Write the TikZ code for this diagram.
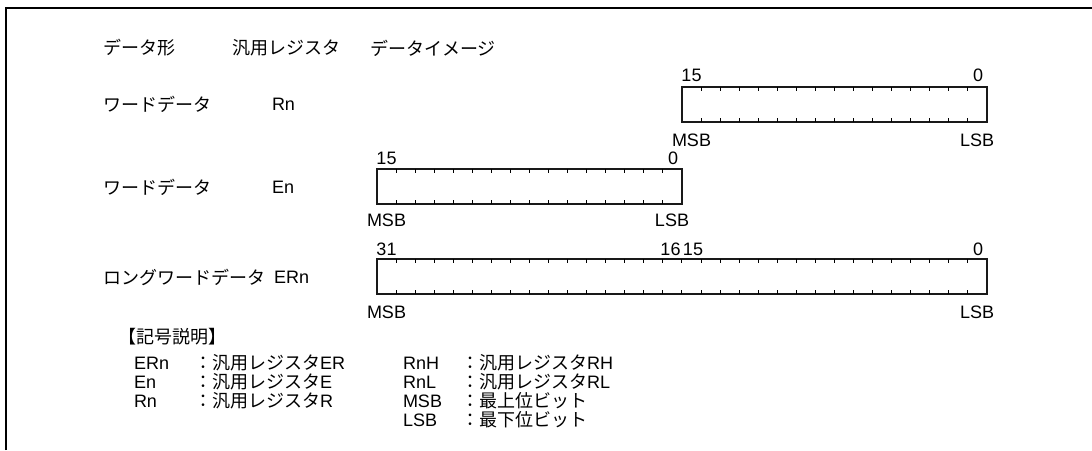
\documentclass[tikz,border=0pt]{standalone}
\usepackage{fontspec}
\setmainfont{Liberation Sans}
\newfontfamily\jp{Noto Sans CJK JP}

\begin{document}
\begin{tikzpicture}[x=1pt, y=-1pt, font=\fontsize{18}{21}\selectfont, inner sep=0pt, outer sep=0pt]
    \useasboundingbox (0,0) rectangle (1092,450);
    \draw [line width=2pt] (5.5,450) -- (5.5,7.5) -- (1092,7.5);

    % column heads
    \node (hform) [anchor=west] at (103,48) {\jp データ形};
    \node (hreg) [anchor=west] at (232,48) {\jp 汎用レジスタ};
    \node (himg) [anchor=west] at (370,48) {\jp データイメージ};

    % rows
    \node (wordr) [anchor=west] at (103,104) {\jp ワードデータ};
    \node (rn) [anchor=west] at (272,104) {Rn};
    \node (worde) [anchor=west] at (103,187) {\jp ワードデータ};
    \node (en) [anchor=west] at (272,187) {En};
    \node (long) [anchor=west] at (103,277) {\jp ロングワードデータ};
    \node (ern) [anchor=west] at (274,277) {ERn};

    % registers
    \node (rnbox) [rectangle, draw=black!90, line width=2.8pt, minimum width=305pt, minimum height=35pt, anchor=north west] at (682,87) {};
    \node (enbox) [rectangle, draw=black!90, line width=2.8pt, minimum width=305pt, minimum height=35pt, anchor=north west] at (377,169) {};
    \node (ernbox) [rectangle, draw=black!90, line width=2.8pt, minimum width=610pt, minimum height=35pt, anchor=north west] at (377,259) {};
    \foreach \x/\y/\n in {682/87/15, 377/169/15, 377/259/31}
        \foreach \i in {1,...,\n}
            \draw [line width=1pt] (\x+\i*19.06,\y) -- ++(0,4) (\x+\i*19.06,\y+35) -- ++(0,-4);

    \node (rnhi) at (691.5,75) {15};
    \node (rnlo) at (978,75) {0};
    \node (rnmsb) at (691.5,140) {MSB};
    \node (rnlsb) at (977,140) {LSB};

    \node (enhi) at (386.5,158) {15};
    \node (enlo) at (673,158) {0};
    \node (enmsb) at (386.5,220) {MSB};
    \node (enlsb) at (672,220) {LSB};

    \node (ernhi) at (386.5,249) {31};
    \node (ernmid) at (670.5,249) {16};
    \node (ernmid2) at (693,249) {15};
    \node (ernlo) at (978,249) {0};
    \node (ernmsb) at (386.5,312) {MSB};
    \node (ernlsb) at (977,312) {LSB};

    % legend
    \node (legend) [anchor=west] at (118,337) {\jp 【記号説明】};
    \node (kern) [anchor=west] at (134,363) {ERn};
    \node (tern) [anchor=west] at (194,363) {\jp ：汎用レジスタ\rmfamily ER};
    \node (ken) [anchor=west] at (134,382) {En};
    \node (ten) [anchor=west] at (194,382) {\jp ：汎用レジスタ\rmfamily E};
    \node (krn) [anchor=west] at (134,401) {Rn};
    \node (trn) [anchor=west] at (194,401) {\jp ：汎用レジスタ\rmfamily R};
    \node (krnh) [anchor=west] at (403,363) {RnH};
    \node (trnh) [anchor=west] at (461,363) {\jp ：汎用レジスタ\rmfamily RH};
    \node (krnl) [anchor=west] at (403,382) {RnL};
    \node (trnl) [anchor=west] at (461,382) {\jp ：汎用レジスタ\rmfamily RL};
    \node (kmsb) [anchor=west] at (403,401) {MSB};
    \node (tmsb) [anchor=west] at (461,401) {\jp ：最上位ビット};
    \node (klsb) [anchor=west] at (403,420) {LSB};
    \node (tlsb) [anchor=west] at (461,420) {\jp ：最下位ビット};
\end{tikzpicture}
\end{document}
